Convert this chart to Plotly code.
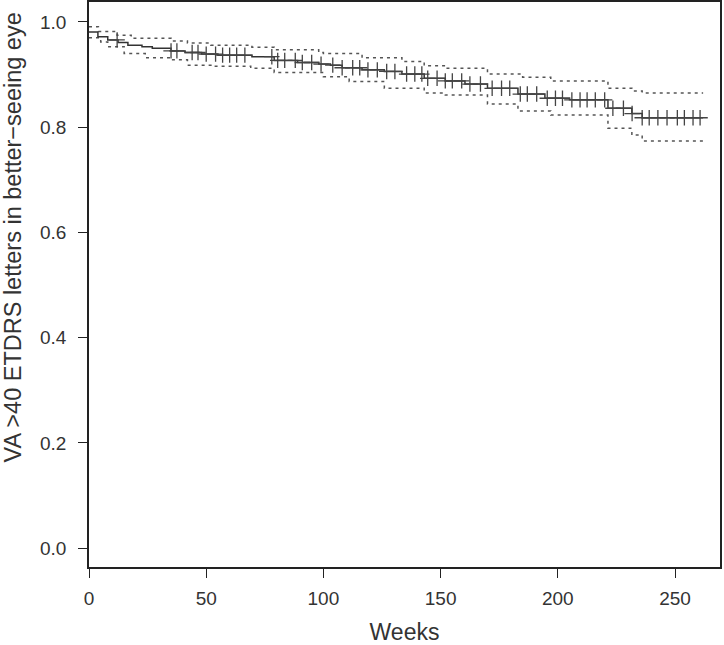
import plotly.graph_objects as go
import numpy as np

# Kaplan-Meier estimate (step times in weeks, survival)
km_t = [0, 3.8, 8, 12.4, 16.6, 22.6, 27, 35, 41, 48, 55, 69.5, 79, 89, 98, 103, 108, 116.5,
        126, 133.5, 143, 152, 160.4, 170, 183, 194.5, 205, 221.4, 231.6, 236, 262]
km_s = [0.981, 0.972, 0.966, 0.961, 0.956, 0.953, 0.950, 0.945, 0.942, 0.939, 0.937, 0.934,
        0.927, 0.923, 0.920, 0.918, 0.913, 0.909, 0.906, 0.901, 0.893, 0.888, 0.882, 0.874,
        0.863, 0.855, 0.852, 0.836, 0.826, 0.818, 0.818]

# Upper confidence limit
up_t = [0, 4, 12, 18, 35, 42, 52, 69.5, 79, 98, 100, 116.5, 133.5, 143, 152, 170, 185, 197,
        221.4, 231.6, 236, 262]
up_s = [0.991, 0.982, 0.975, 0.969, 0.964, 0.960, 0.956, 0.952, 0.947, 0.942, 0.940, 0.932,
        0.925, 0.917, 0.912, 0.901, 0.895, 0.888, 0.874, 0.869, 0.865, 0.865]

# Lower confidence limit
lo_t = [0, 5, 8, 15, 24, 35, 42, 52, 69, 79, 100, 111, 126, 143, 152, 170, 183, 197, 221.4,
        231.6, 236, 262]
lo_s = [0.970, 0.962, 0.953, 0.940, 0.932, 0.928, 0.918, 0.916, 0.912, 0.904, 0.896, 0.887,
        0.874, 0.865, 0.861, 0.844, 0.831, 0.823, 0.798, 0.785, 0.774, 0.774]

# Censoring times (weeks)
cens_t = [12, 35, 37.5, 44, 46.5, 50, 54, 57, 60, 63, 66.5, 78, 80.5, 83.5, 88, 91, 95, 99,
          104, 108, 112.5, 115.5, 119, 123, 127, 130.5, 135.5, 139, 142, 144.5, 148.5, 152,
          155, 159, 162.5, 167, 172, 176, 179.5, 184, 187, 191, 195.5, 199, 202, 206, 209.5,
          212.5, 216, 220, 223.5, 228, 231.7, 236, 239, 242.7, 246.6, 251, 254, 257.7, 260.7]

y_title = "VA >40 ETDRS letters in better\u2212seeing eye"

def step_at(ts, ss, x):
    idx = np.searchsorted(ts, x, side="right") - 1
    return ss[max(idx, 0)]

cens_s = [step_at(km_t, km_s, t) for t in cens_t]

fig = go.Figure()
for ts, ss in [(up_t, up_s), (lo_t, lo_s)]:
    fig.add_trace(go.Scatter(x=ts, y=ss, mode="lines", line_shape="hv",
                             line=dict(color="#555555", width=1.5, dash="3px,4px"),
                             showlegend=False, hoverinfo="skip"))
fig.add_trace(go.Scatter(x=km_t, y=km_s, mode="lines", line_shape="hv",
                         line=dict(color="#333333", width=1.5), showlegend=False))
fig.add_trace(go.Scatter(x=cens_t, y=cens_s, mode="markers",
                         marker=dict(symbol="cross-thin", size=11,
                                     line=dict(color="#444444", width=1.3)),
                         showlegend=False))

font = dict(family="Liberation Sans, Arial, sans-serif", size=19, color="#333333")
fig.update_layout(
    width=724, height=645,
    margin=dict(l=89, r=4, t=2, b=78),
    plot_bgcolor="white", paper_bgcolor="white",
    font=font,
    xaxis=dict(range=[0, 269.2], tickvals=[0, 50, 100, 150, 200, 250], automargin=False,
               showline=True, mirror=True, linecolor="#222222", linewidth=1.5,
               ticks="outside", ticklen=9, tickcolor="#222222", tickwidth=1.2,
               ticklabelstandoff=4,
               showgrid=False, zeroline=False,
               title=dict(text="Weeks", standoff=18)),
    yaxis=dict(range=[-0.036, 1.038], tickvals=[0, 0.2, 0.4, 0.6, 0.8, 1.0], automargin=False,
               ticktext=["0.0", "0.2", "0.4", "0.6", "0.8", "1.0"],
               showline=True, mirror=True, linecolor="#222222", linewidth=1.5,
               ticks="outside", ticklen=9, tickcolor="#222222", tickwidth=1.2,
               ticklabelstandoff=8,
               showgrid=False, zeroline=False),
    annotations=[dict(text=y_title, textangle=-90, xref="paper", yref="paper",
                      x=0, xshift=-77, y=0.5, yshift=47, xanchor="center",
                      yanchor="middle", showarrow=False,
                      font=dict(family="Liberation Sans, Arial, sans-serif", size=23.5,
                                color="#333333"))],
)
fig.write_html("out.html", config={"displayModeBar": False},
               post_script="document.body.style.margin='0';")
